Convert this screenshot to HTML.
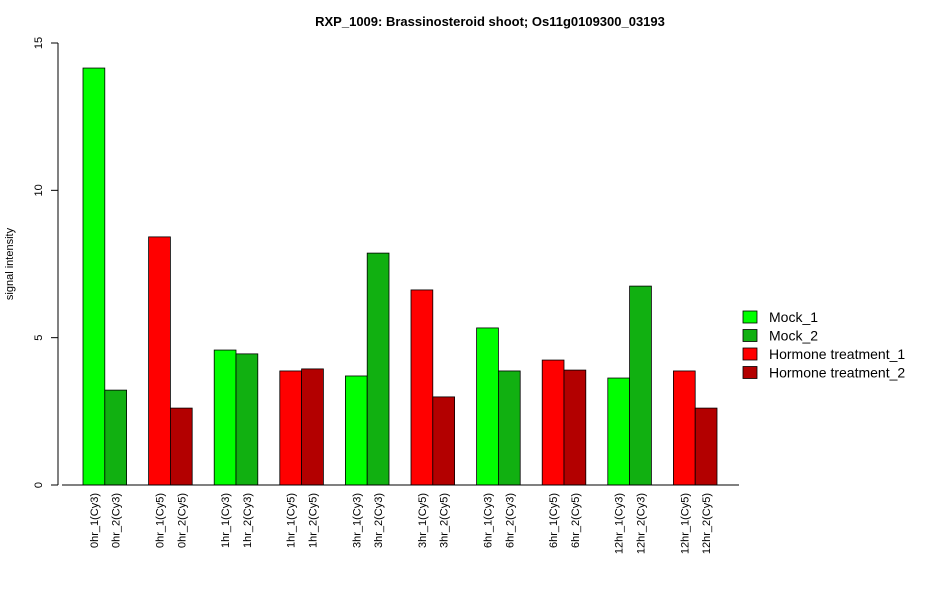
<!DOCTYPE html>
<html><head><meta charset="utf-8"><style>
body{margin:0;background:#fff;font-family:"Liberation Sans",sans-serif}
</style></head><body>
<svg id="chart" width="950" height="600" xmlns="http://www.w3.org/2000/svg" font-family="Liberation Sans, sans-serif">
<text x="490" y="26" text-anchor="middle" font-weight="bold" font-size="13">RXP_1009: Brassinosteroid shoot; Os11g0109300_03193</text>
<text transform="translate(13,264) rotate(-90)" text-anchor="middle" font-size="11">signal intensity</text>
<g id="bars"></g>
<g id="axes"></g>
<g id="legend"></g>
</svg>
<script>
const categories=["0hr_1(Cy3)","0hr_2(Cy3)","0hr_1(Cy5)","0hr_2(Cy5)","1hr_1(Cy3)","1hr_2(Cy3)","1hr_1(Cy5)","1hr_2(Cy5)","3hr_1(Cy3)","3hr_2(Cy3)","3hr_1(Cy5)","3hr_2(Cy5)","6hr_1(Cy3)","6hr_2(Cy3)","6hr_1(Cy5)","6hr_2(Cy5)","12hr_1(Cy3)","12hr_2(Cy3)","12hr_1(Cy5)","12hr_2(Cy5)"];
const values=[14.15,3.22,8.42,2.61,4.58,4.45,3.87,3.94,3.70,7.87,6.62,2.99,5.33,3.87,4.24,3.90,3.63,6.75,3.87,2.61];
const seriesIdx=[0,1,2,3,0,1,2,3,0,1,2,3,0,1,2,3,0,1,2,3];
const seriesNames=["Mock_1","Mock_2","Hormone treatment_1","Hormone treatment_2"];
const yTicks=[0,5,10,15];
const colors=["#00FF00","#11B011","#FF0000","#B30000"];
const NS="http://www.w3.org/2000/svg";
const y0=485,pxPerUnit=(485-43)/15;
const yScale=v=>y0-v*pxPerUnit;
const barW=21.8,pairW=65.6,x0=83;
const xScale=i=>x0+Math.floor(i/2)*pairW+(i%2)*barW;
function mk(tag,attrs,parent){const e=document.createElementNS(NS,tag);for(const k in attrs)e.setAttribute(k,attrs[k]);parent.appendChild(e);return e;}
const bars=document.getElementById('bars'),axes=document.getElementById('axes'),legend=document.getElementById('legend');
values.forEach((v,i)=>{
 const r=mk('rect',{x:xScale(i),y:yScale(v),width:barW,height:y0-yScale(v),fill:colors[seriesIdx[i]],stroke:"#000","stroke-width":0.8},bars);
 
 
 const t=mk('text',{transform:`translate(${xScale(i)+barW/2+4},493) rotate(-90)`,"text-anchor":"end","font-size":11},axes);
 t.textContent=categories[i];
 
 
});
const xl=mk('line',{x1:62,x2:739,y1:y0,y2:y0,stroke:"#000"},axes);


const yl=mk('line',{x1:58,x2:58,y1:yScale(0),y2:yScale(15),stroke:"#000"},axes);


yTicks.forEach(v=>{
 mk('line',{x1:51,x2:58,y1:yScale(v),y2:yScale(v),stroke:"#000"},axes);
 const t=mk('text',{transform:`translate(42,${yScale(v)}) rotate(-90)`,"text-anchor":"middle","font-size":11},axes);
 t.textContent=v;
 
 
});
seriesNames.forEach((n,i)=>{
 const y=317+i*18.5;
 const g=mk('g',{},legend);
 
 
 mk('rect',{x:743,y:y-6,width:14,height:12,fill:colors[i],stroke:"#000","stroke-width":0.8},g);
 const t=mk('text',{x:769,y:y+5,"font-size":14},g);
 t.textContent=n;
});
</script>
</body></html>
